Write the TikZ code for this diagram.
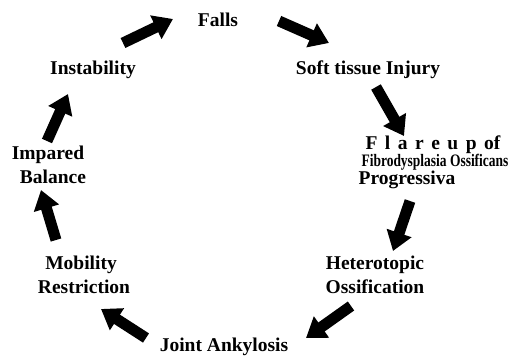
\documentclass[tikz,border=0pt]{standalone}
\usepackage{fontspec}
\setmainfont{Liberation Serif}
\usetikzlibrary{arrows.meta}
\tikzset{
  lbl/.style={font=\fontsize{19.5}{22}\selectfont\bfseries, anchor=base, inner sep=0pt},
  blk/.style={line width=11pt, line cap=butt, -{Triangle[width=25pt,length=19pt]}, black}
}
\begin{document}
\begin{tikzpicture}[x=1pt,y=-1pt]
\useasboundingbox (0,0) rectangle (517,356);
% labels
\node[lbl] (falls) at (218,26) {Falls};
\node[lbl] (soft) at (368,74) {Soft tissue Injury};
\node[lbl] (flare) at (433,149) {F\kern7.5pt l\kern7.5pt a\kern7.5pt r\kern7.5pt e\kern7.5pt u\kern7.5pt p\kern7.5pt of};
\node[lbl, font=\fontsize{17.5}{20}\selectfont\bfseries] (fibro) at (435,166) {\scalebox{0.77}[1]{Fibrodysplasia Ossificans}};
\node[lbl] (prog) at (407,184) {Progressiva};
\node[lbl] (het1) at (375,269) {Heterotopic};
\node[lbl] (het2) at (375,293) {Ossification};
\node[lbl] (joint) at (224,351) {Joint Ankylosis};
\node[lbl] (mob1) at (81,269) {Mobility};
\node[lbl] (mob2) at (84,293) {Restriction};
\node[lbl] (imp1) at (48,159) {Impared};
\node[lbl] (imp2) at (53,183) {Balance};
\node[lbl] (inst) at (93,74) {Instability};
% arrow end points
\coordinate (a1s) at (123,43); \coordinate (a1e) at (173,19);
\coordinate (a2s) at (279,21); \coordinate (a2e) at (329,43);
\coordinate (a3s) at (376,87); \coordinate (a3e) at (404,136);
\coordinate (a4s) at (410,201); \coordinate (a4e) at (393,251);
\coordinate (a5s) at (351,306); \coordinate (a5e) at (306,338);
\coordinate (a6s) at (146,338); \coordinate (a6e) at (101,309);
\coordinate (a7s) at (56,240); \coordinate (a7e) at (41,190);
\coordinate (a8s) at (47,141); \coordinate (a8e) at (68,94);
\foreach \i in {1,...,8} \draw[blk] (a\i s) -- (a\i e);
\end{tikzpicture}
\end{document}
